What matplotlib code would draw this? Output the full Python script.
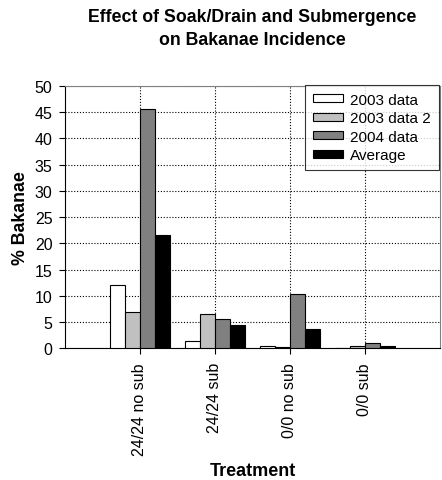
import numpy as np
import matplotlib
matplotlib.use("Agg")
import matplotlib.pyplot as plt

plt.rcParams['font.family'] = ['Liberation Sans', 'DejaVu Sans']

treatments = ["24/24 no sub", "24/24 sub", "0/0 no sub", "0/0 sub"]
series_names = ["2003 data", "2003 data 2", "2004 data", "Average"]
data_2003 = [12.0, 1.3, 0.4, 0.0]
data_2003_2 = [7.0, 6.6, 0.2, 0.4]
data_2004 = [45.7, 5.5, 10.4, 1.0]
average = [21.6, 4.5, 3.7, 0.5]
colors = ["white", "#c0c0c0", "#808080", "black"]

fig = plt.figure(figsize=(4.42, 4.81), dpi=100)
ax = fig.add_axes([0.147, 0.274, 0.848, 0.545])

x = np.arange(1, len(treatments) + 1)
width = 0.2
all_series = [data_2003, data_2003_2, data_2004, average]
for i, vals in enumerate(all_series):
    ax.bar(x + (i - 1.5) * width, vals, width, color=colors[i],
           edgecolor="black", linewidth=0.8, label=series_names[i], zorder=3)

ax.set_xlim(0, 5)
ax.set_ylim(0, 50)
ax.set_yticks(range(0, 51, 5))
ax.set_xticks(x)
ax.set_xticklabels(treatments, rotation=90, fontsize=11.5)
ax.tick_params(axis="y", labelsize=11.5, direction="out", length=4, pad=5)
ax.tick_params(axis="x", direction="out", length=4, pad=6)
ax.grid(True, linestyle=(0, (1, 1.6)), color="black", linewidth=0.8, zorder=0)

ax.spines["top"].set_color("#808080")
ax.spines["right"].set_color("#808080")
ax.spines["left"].set_color("black")
ax.spines["bottom"].set_color("black")

ax.set_ylabel("% Bakanae", fontsize=12.8, fontweight="bold", labelpad=4)
ax.set_xlabel("Treatment", fontsize=13, fontweight="bold", labelpad=5)

fig.text(0.571, 0.982, "Effect of Soak/Drain and Submergence\non Bakanae Incidence",
         ha="center", va="top", fontsize=12.8, fontweight="bold", linespacing=1.5)

leg = ax.legend(loc="upper right", bbox_to_anchor=(0.997, 1.004), fontsize=11,
                frameon=True, fancybox=False, edgecolor="black",
                handlelength=2.0, handleheight=0.4, borderpad=0.5,
                labelspacing=0.3, handletextpad=0.45, borderaxespad=0)
leg.get_frame().set_linewidth(0.8)

fig.savefig("out.png", dpi=100)
